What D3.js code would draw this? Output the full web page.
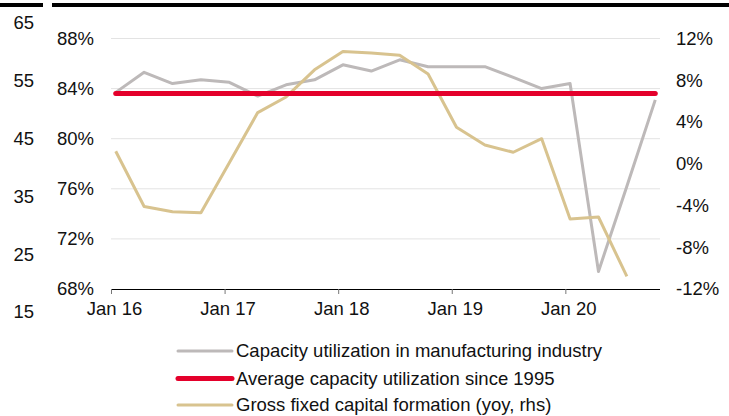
<!DOCTYPE html>
<html>
<head>
<meta charset="utf-8">
<script src="https://cdn.jsdelivr.net/npm/d3@7/dist/d3.min.js"></script>
<style>
  html, body { margin: 0; padding: 0; background: #fff; }
  svg { display: block; font-family: "Liberation Sans", Arial, sans-serif; }
</style>
</head>
<body>
<svg id="chart" width="729" height="416"></svg>
<script>
// Quarterly observations, Q1 2016 .. Q4 2020 (month index since Jan 2016)
const quarters = d3.range(20).map(i => i * 3);
const capacityUtil = [83.7, 85.3, 84.4, 84.7, 84.5, 83.4, 84.3, 84.7, 85.9, 85.4,
                      86.3, 85.75, 85.75, 85.75, 84.9, 84.0, 84.4, 69.4, 76.2, 83.1];
const avgSince1995 = 83.6;
const gfcfYoy = [1.2, -4.1, -4.6, -4.7, 0.1, 4.9, 6.4, 9.0, 10.75, 10.6,
                 10.4, 8.6, 3.5, 1.8, 1.1, 2.4, -5.3, -5.1, -10.8];
const xTickMonths = [0, 12, 24, 36, 48];
const xTickLabels = ["Jan 16", "Jan 17", "Jan 18", "Jan 19", "Jan 20"];
const leftTicks = [68, 72, 76, 80, 84, 88];
const rightTicks = [-12, -8, -4, 0, 4, 8, 12];
const outerTicks = [15, 25, 35, 45, 55, 65];
const legendLabels = [
  "Capacity utilization in manufacturing industry",
  "Average capacity utilization since 1995",
  "Gross fixed capital formation (yoy, rhs)"
];

const colors = { cap: "#bdb9b9", avg: "#e4002b", gfcf: "#d8c38f" };
const FS = 18.5;
const FONT = "Liberation Sans, Arial, sans-serif";

const svg = d3.select("#chart");
const plot = { left: 111, right: 660, top: 38.5, bottom: 289 };

// month-based date axis; each quarterly value sits in the middle of its month
const x = d3.scaleLinear().domain([0, 58]).range([plot.left, plot.right]);
const yL = d3.scaleLinear().domain([68, 88]).range([plot.bottom, plot.top]);
const yR = d3.scaleLinear().domain([-12, 12]).range([plot.bottom, plot.top]);
const yOuter = d3.scaleLinear().domain([15, 65]).range([312, 23]);

// header rules
svg.append("rect").attr("x", 0).attr("y", 3).attr("width", 43).attr("height", 4).attr("fill", "#000");
svg.append("rect").attr("x", 52).attr("y", 3).attr("width", 677).attr("height", 4).attr("fill", "#000");

// gridlines
svg.append("g").selectAll("line").data(leftTicks.filter(d => d > 68)).join("line")
  .attr("x1", plot.left).attr("x2", plot.right)
  .attr("y1", d => yL(d)).attr("y2", d => yL(d))
  .attr("stroke", "#e3e3e3").attr("stroke-width", 1);

// outer left axis labels
svg.append("g").selectAll("text").data(outerTicks).join("text")
  .attr("x", 34).attr("y", d => yOuter(d)).attr("dy", "0.35em")
  .attr("text-anchor", "end").attr("font-size", FS).attr("fill", "#111")
  .text(d => d);

// left axis
const leftAxis = svg.append("g").attr("transform", `translate(${plot.left - 17},0)`)
  .call(d3.axisLeft(yL).tickValues(leftTicks).tickSize(0).tickFormat(d => d + "%"));
leftAxis.select(".domain").remove();
leftAxis.selectAll("text").attr("font-size", FS).attr("fill", "#111")
  .attr("font-family", FONT).attr("x", 0);

// right axis
const rightAxis = svg.append("g").attr("transform", `translate(${plot.right + 16},0)`)
  .call(d3.axisRight(yR).tickValues(rightTicks).tickSize(0).tickFormat(d => d + "%"));
rightAxis.select(".domain").remove();
rightAxis.selectAll("text").attr("font-size", FS).attr("fill", "#111")
  .attr("font-family", FONT).attr("x", 0);

// bottom axis
const bottomAxis = svg.append("g").attr("transform", `translate(0,${plot.bottom})`)
  .call(d3.axisBottom(x).tickValues(xTickMonths).tickSize(5)
    .tickFormat((d, i) => xTickLabels[i]));
bottomAxis.select(".domain").attr("d", `M${plot.left},0.5H${plot.right}`).attr("stroke", "#000");
bottomAxis.selectAll(".tick line").attr("stroke", "#777");
bottomAxis.selectAll("text").attr("font-size", FS).attr("fill", "#111")
  .attr("font-family", FONT).attr("y", 13).attr("dx", 3);

const xm = i => x(quarters[i] + 0.5);

// capacity utilization
svg.append("path").datum(capacityUtil)
  .attr("d", d3.line().x((d, i) => xm(i)).y(d => yL(d)))
  .attr("fill", "none").attr("stroke", colors.cap).attr("stroke-width", 3)
  .attr("stroke-linejoin", "round");

// gross fixed capital formation (rhs)
svg.append("path").datum(gfcfYoy)
  .attr("d", d3.line().x((d, i) => xm(i)).y(d => yR(d)))
  .attr("fill", "none").attr("stroke", colors.gfcf).attr("stroke-width", 3)
  .attr("stroke-linejoin", "round");

// long-run average
svg.append("path").datum(capacityUtil.map(() => avgSince1995))
  .attr("d", d3.line().x((d, i) => xm(i)).y(d => yL(d)))
  .attr("fill", "none").attr("stroke", colors.avg).attr("stroke-width", 5)
  .attr("stroke-linecap", "round");

// legend
const legend = svg.append("g");
const legendColors = [colors.cap, colors.avg, colors.gfcf];
const legendWidths = [3, 5, 3];
const legendY = [351, 378.5, 405];
legendLabels.forEach((lab, i) => {
  legend.append("line").attr("x1", 178).attr("x2", 232)
    .attr("y1", legendY[i]).attr("y2", legendY[i])
    .attr("stroke", legendColors[i]).attr("stroke-width", legendWidths[i])
    .attr("stroke-linecap", "round");
  legend.append("text").attr("x", 236).attr("y", legendY[i]).attr("dy", "0.35em")
    .attr("font-size", FS).attr("fill", "#111").text(lab);
});
</script>
</body>
</html>
